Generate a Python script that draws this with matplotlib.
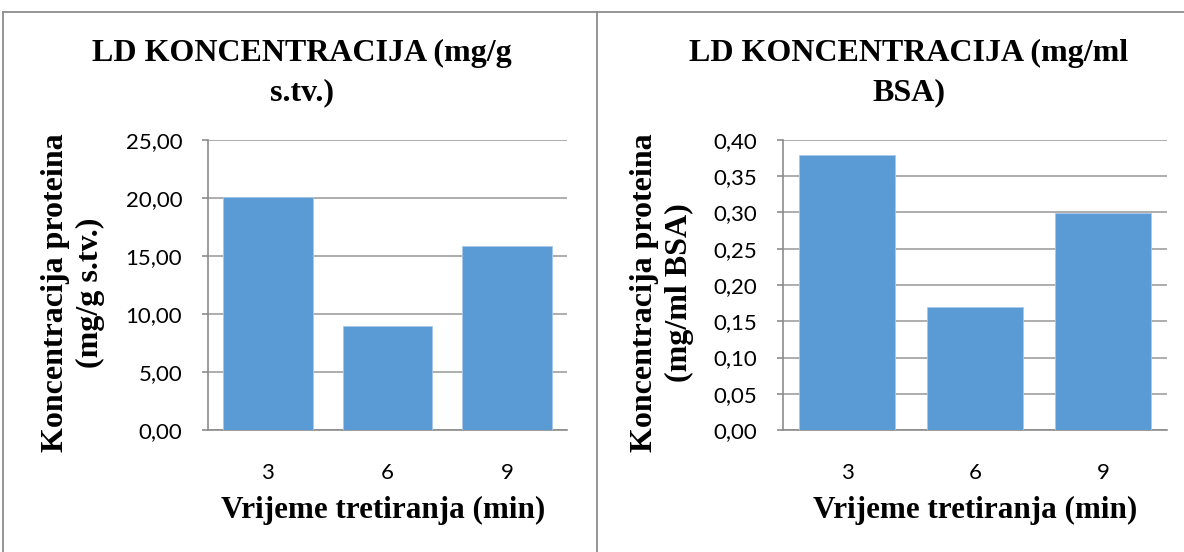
import matplotlib
matplotlib.use("Agg")
import matplotlib.pyplot as plt
from matplotlib.lines import Line2D
from matplotlib.ticker import MultipleLocator, FuncFormatter

categories = ["3", "6", "9"]
vals_left = [20.1, 9.0, 15.9]
vals_right = [0.38, 0.17, 0.30]
title_left = "LD KONCENTRACIJA (mg/g\ns.tv.)"
title_right = "LD KONCENTRACIJA (mg/ml\nBSA)"
ylabel_left = "Koncentracija proteina\n(mg/g s.tv.)"
ylabel_right = "Koncentracija proteina\n(mg/ml BSA)"
xlabel = "Vrijeme tretiranja (min)"

W, H = 1184, 552
fig = plt.figure(figsize=(W / 100, H / 100), dpi=100)
fig.patch.set_facecolor("white")

BAR = "#5b9bd5"
GRID = "#a0a0a0"
SERIF = "Liberation Serif"
SANS = "Lato"


def px(x0, y0, x1, y1):
    return [x0 / W, 1 - y1 / H, (x1 - x0) / W, (y1 - y0) / H]


def draw(ax, vals, ymax, step, fmt):
    x = range(len(categories))
    ax.bar(x, vals, width=0.75, color=BAR, edgecolor="#a9c8ea", linewidth=0.6, zorder=3)
    ax.set_xlim(-0.5, len(categories) - 0.5)
    ax.set_ylim(0, ymax)
    ax.yaxis.set_major_locator(MultipleLocator(step))
    ax.yaxis.set_major_formatter(FuncFormatter(lambda v, p: fmt.format(v).replace(".", ",")))
    ax.set_xticks(list(x))
    ax.set_xticklabels(categories)
    ax.grid(axis="y", color=GRID, linewidth=1.2, zorder=0)
    for s in ["top", "right"]:
        ax.spines[s].set_visible(False)
    for s in ["left", "bottom"]:
        ax.spines[s].set_color("#8c8c8c")
        ax.spines[s].set_linewidth(1.2)
    ax.tick_params(axis="y", length=4, color="#8c8c8c", width=1.2, pad=14.5,
                   labelsize=16)
    ax.tick_params(axis="x", length=0, pad=24, labelsize=16)
    for lab in ax.get_xticklabels() + ax.get_yticklabels():
        lab.set_family(SANS)


ax1 = fig.add_axes(px(208, 140, 567, 430))
draw(ax1, vals_left, 25, 5, "{:.2f}")
ax2 = fig.add_axes(px(783, 140, 1167, 430))
draw(ax2, vals_right, 0.40, 0.05, "{:.2f}")

tkw = dict(family=SERIF, weight="bold", fontsize=23, ha="center", va="center",
           linespacing=1.45)
fig.text(302 / W, 1 - 73 / H, title_left, **tkw)
fig.text(909 / W, 1 - 73 / H, title_right, **tkw)

lkw = dict(family=SERIF, weight="bold", fontsize=22.4, ha="center", va="center")
fig.text(383 / W, 1 - 510 / H, xlabel, **lkw)
fig.text(975 / W, 1 - 510 / H, xlabel, **lkw)
ykw = dict(lkw, fontsize=23, linespacing=1.3, rotation=90)
fig.text(73 / W, 1 - 293 / H, ylabel_left, **ykw)
fig.text(662 / W, 1 - 293 / H, ylabel_right, **ykw)

# outer frames of the two chart areas
fc = "#8c8c8c"
for (xa, ya) in [([3, 1184], [12, 12]), ([3, 3], [12, 552]), ([597, 597], [12, 552])]:
    fig.add_artist(Line2D([v / W for v in xa], [1 - v / H for v in ya],
                          color=fc, linewidth=1.3))

fig.savefig("out.png", dpi=100, facecolor="white")
